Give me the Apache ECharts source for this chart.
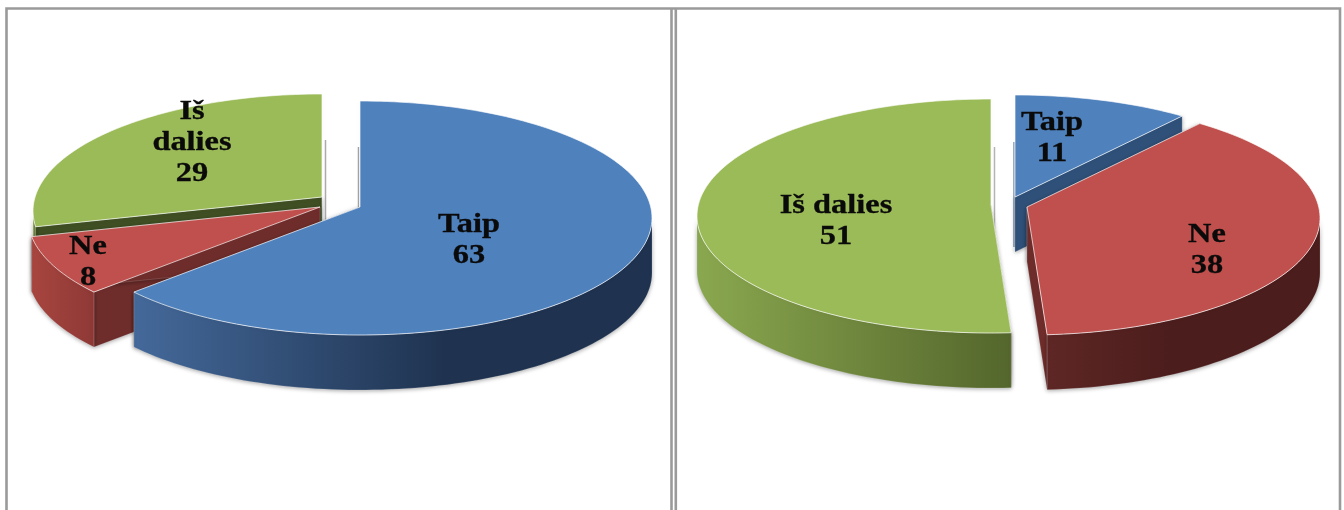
<!DOCTYPE html>
<html><head><meta charset="utf-8">
<style>html,body{margin:0;padding:0;background:#fff}#c{width:1344px;height:510px}</style>
<script src="https://cdn.jsdelivr.net/npm/echarts@6/dist/echarts.min.js"></script>
</head><body><div id="c"></div>
<script>
const categories = ['Taip', 'Ne', 'Iš dalies'];
const valuesLeft = [63, 8, 29];
const valuesRight = [11, 38, 51];
const labelNamesLeft = ['Taip', 'Ne', 'Iš\ndalies'];
const labelNamesRight = ['Taip', 'Ne', 'Iš dalies'];

// styling only
const topColors = ['#4f81bd', '#c0504d', '#9bbb59'];
const wallColors = ['#2f5078', '#6e2d2b', '#3f4f23'];
const sideStops = [
  [[0, '#44699a'], [0.6, '#1f3350'], [1, '#1f3350']],
  [[0, '#a8453f'], [1, '#8e3936']],
  [[0, '#8aa84f'], [1, '#54662c']]
];
const sideStopsRed = [[0, '#5e2725'], [0.45, '#4b1d1c'], [1, '#4b1d1c']];
const DEPTH = 55, RY = 117;
const layoutLeft = {
  apex: [[360, 207], [320, 207], [322, 197]], rx: [292, 292, 289], persp: [11, 11, 14],
  z: [30, 20, 10],
  label: [[469, 241], [88, 263], [192, 143]], lh: 31, side: sideStops,
  ghost: [[358.5, 147, 215, 'rgba(90,90,90,0.55)'], null, [325.5, 140, 226, 'rgba(90,90,90,0.5)']]
};
const layoutRight = {
  apex: [[1015, 197], [1027, 207], [991, 205]], rx: [292, 293, 294], persp: [15, 11, 11],
  z: [20, 30, 10],
  label: [[1052, 139], [1207, 251], [836, 222]], lh: 31,
  side: [sideStops[0], sideStopsRed, sideStops[2]],
  ghost: [[1014, 142, 247, 'rgba(70,100,140,0.7)'], null, [994.5, 147, 290, 'rgba(90,90,90,0.45)']]
};

function rim(ax, ay, rx, persp, deg) {
  const t = deg * Math.PI / 180;
  const dx = Math.sin(t) * rx, dy = -Math.cos(t) * RY;
  const a = dx * dx / (rx * rx) + dy * dy / (RY * RY);
  const b = -2 * dy * persp / (RY * RY);
  const c = persp * persp / (RY * RY) - 1;
  const k = (-b + Math.sqrt(b * b - 4 * a * c)) / (2 * a);
  return [ax + dx * k, ay + dy * k];
}
function arc(ax, ay, rx, persp, d0, d1) {
  const pts = [], n = Math.max(2, Math.ceil((d1 - d0) / 1.5));
  for (let i = 0; i <= n; i++) pts.push(rim(ax, ay, rx, persp, d0 + (d1 - d0) * i / n));
  return pts;
}
const down = p => [p[0], p[1] + DEPTH];

function pieRender(values, names, L) {
  const total = values.reduce((a, b) => a + b, 0);
  return function (params, api) {
    const i = params.dataIndex;
    const before = values.slice(0, i).reduce((a, b) => a + b, 0);
    const d0 = before / total * 360, d1 = d0 + api.value(0) / total * 360;
    const [ax, ay] = L.apex[i], rx = L.rx[i], z = L.z[i], persp = L.persp[i];
    const A = [ax, ay], pts = arc(ax, ay, rx, persp, d0, d1);
    const kids = [];
    const shadow = { shadowBlur: 4, shadowColor: 'rgba(0,0,0,0.35)', shadowOffsetY: 1 };
    if (L.ghost[i]) {
      const g = L.ghost[i];
      kids.push({ type: 'line', z2: z - 1, shape: { x1: g[0], y1: g[1], x2: g[0], y2: g[2] },
        style: { stroke: g[3], lineWidth: 1.5 } });
    }
    // radial walls
    [pts[0], pts[pts.length - 1]].forEach(p => {
      kids.push({ type: 'polygon', z2: z, shape: { points: [A, p, down(p), down(A)] },
        style: Object.assign({ fill: wallColors[i], stroke: 'rgba(255,255,255,0.25)', lineWidth: 0.6 }, shadow) });
    });
    // outer front side
    const s0 = Math.max(d0, 95.4), s1 = Math.min(d1, 264.6);
    if (s1 > s0) {
      const a = arc(ax, ay, rx, persp, s0, s1);
      const stops = L.side[i].map(s => ({ offset: s[0], color: s[1] }));
      kids.push({ type: 'polygon', z2: z + 1, shape: { points: a.concat(a.slice().reverse().map(down)) },
        style: Object.assign({ fill: new echarts.graphic.LinearGradient(0, 0, 1, 0, stops),
          stroke: 'rgba(255,255,255,0.25)', lineWidth: 0.6 }, shadow) });
    }
    // top face
    kids.push({ type: 'polygon', z2: z + 2, shape: { points: [A].concat(pts) },
      style: { fill: topColors[i], stroke: 'rgba(255,255,255,0.65)', lineWidth: 1 } });
    // label
    const [lx, ly] = L.label[i];
    kids.push({ type: 'text', z2: 100, x: lx, y: ly, scaleX: 1.2, scaleY: 1,
      style: { x: 0, y: 0, text: names[i] + '\n' + api.value(0), align: 'center', verticalAlign: 'middle',
        fontFamily: 'Liberation Serif', fontWeight: 'bold', fontSize: 27, lineHeight: L.lh, fill: '#0a0a0a',
        stroke: '#0a0a0a', lineWidth: 0.3 } });
    return { type: 'group', children: kids };
  };
}

const frameLines = [
  [[6.5, 512], [6.5, 8.5], [1340, 8.5], [1340, 512]],
  [[671.5, 8.5], [671.5, 512]],
  [[675.8, 8.5], [675.8, 512]]
];
const chart = echarts.init(document.getElementById('c'), null, { renderer: 'canvas' });
chart.setOption({
  animation: false,
  backgroundColor: '#fff',
  graphic: frameLines.map(points => ({ type: 'polyline', shape: { points },
    style: { fill: null, stroke: '#9a9a9a', lineWidth: 2.6 } })),
  series: [
    { type: 'custom', coordinateSystem: 'none', renderItem: pieRender(valuesLeft, labelNamesLeft, layoutLeft),
      data: valuesLeft.map((v, i) => ({ name: categories[i], value: [v] })) },
    { type: 'custom', coordinateSystem: 'none', renderItem: pieRender(valuesRight, labelNamesRight, layoutRight),
      data: valuesRight.map((v, i) => ({ name: categories[i], value: [v] })) }
  ]
});
</script></body></html>
